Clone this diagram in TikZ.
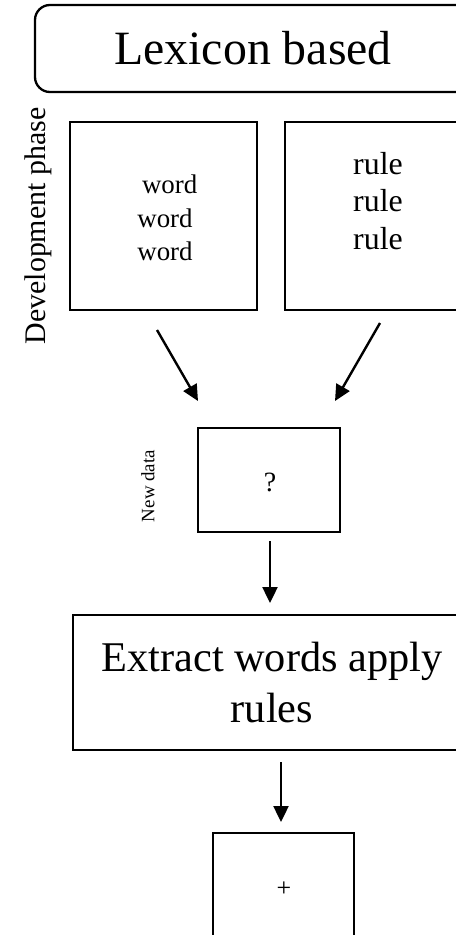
\documentclass[tikz,border=0pt]{standalone}
\usepackage{fontspec}
\setmainfont{Liberation Serif}
\usetikzlibrary{arrows.meta}

\tikzset{
  panel/.style={draw=black, line width=2.3bp, fill=white, inner sep=0pt},
  flowarrow/.style={line width=2.4bp, -{Triangle[length=16bp,width=15bp]}},
  sidelabel/.style={rotate=90, inner sep=0pt},
}

\begin{document}
\begin{tikzpicture}[x=1bp, y=-1bp]
  \useasboundingbox (0,0) rectangle (456,935);
  \clip (0,0) rectangle (456,935);

  % title banner
  \node[panel, rounded corners=15bp, minimum width=436bp, minimum height=87bp,
        font=\fontsize{48}{56}\selectfont] (lexicon) at (253,48.5) {Lexicon based};

  % development phase: word list and rule list
  \node[sidelabel, font=\fontsize{30}{34}\selectfont] (devphase) at (38,226) {Development phase};
  \node[panel, minimum width=187bp, minimum height=188bp] (words) at (163.5,216) {};
  \node[align=center, inner sep=0pt, font=\fontsize{27}{33.5}\selectfont] (wordlist) at (165,218)
        {\hspace*{0.35em}word\\word\\word};
  \node[panel, minimum width=186bp, minimum height=188bp] (rules) at (378,216) {};
  \node[align=center, inner sep=0pt, font=\fontsize{32}{38}\selectfont] (rulelist) at (378,201)
        {rule\\rule\\rule};

  % new data
  \node[sidelabel, font=\fontsize{19}{22}\selectfont] (newdata) at (148,486) {New data};
  \node[panel, minimum width=142bp, minimum height=104bp] (query) at (269,480) {};
  \node[inner sep=0pt, font=\fontsize{28}{32}\selectfont] (qmark) at (270,482) {?};

  % processing step
  \node[panel, minimum width=398bp, minimum height=135bp, align=center,
        font=\fontsize{42.5}{51}\selectfont] (extract) at (272,682.5)
        {Extract words apply\\rules};

  % result
  \node[panel, minimum width=141bp, minimum height=141bp] (result) at (283.5,903.5) {};
  \node[inner sep=0pt, font=\fontsize{26}{30}\selectfont] (plus) at (284,889) {+};

  % arrow end points
  \coordinate (w1) at (157,330);
  \coordinate (w2) at (198,401);
  \coordinate (r1) at (380,323);
  \coordinate (r2) at (335,401);
  \coordinate (q1) at (270,541);
  \coordinate (q2) at (270,603);
  \coordinate (e1) at (281,762);
  \coordinate (e2) at (281,822);

  \draw[flowarrow] (w1) -- (w2);
  \draw[flowarrow] (r1) -- (r2);
  \draw[flowarrow] (q1) -- (q2);
  \draw[flowarrow] (e1) -- (e2);
\end{tikzpicture}
\end{document}
